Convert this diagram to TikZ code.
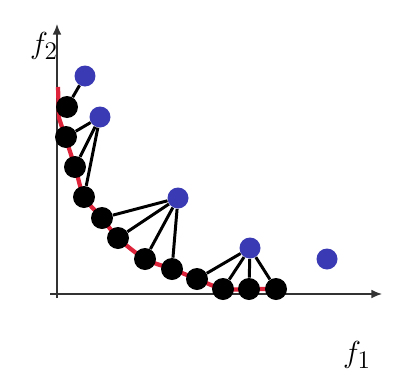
\documentclass[tikz,border=0pt]{standalone}
\usepackage{xcolor}
\definecolor{dotblue}{RGB}{58,58,180}
\definecolor{frontred}{RGB}{222,36,58}
\usetikzlibrary{arrows.meta,backgrounds}

\begin{document}
\begin{tikzpicture}[x=0.02cm, y=-0.02cm,
    sol/.style={circle, fill=black, minimum size=0.44cm, inner sep=0pt},
    refpt/.style={circle, fill=dotblue, minimum size=0.42cm, inner sep=0pt},
    link/.style={line width=1.7pt, black},
    axis/.style={line width=0.9pt, black!80, -{Latex[length=6pt,width=5pt]}},
    lab/.style={font=\fontsize{19}{22}\selectfont, inner sep=0pt}
  ]
    \useasboundingbox (0,0) rectangle (405,389);

    % Axes ends
    \coordinate (xs) at (50,294);
    \coordinate (xe) at (382,294);
    \coordinate (ys) at (57,298);
    \coordinate (ye) at (57,24);
    \coordinate (top) at (58,87);
    \coordinate (bend) at (59,118);

    % Axis labels
    \node[lab] (f2lab) at (44,46) {$f_2$};
    \node[lab] (f1lab) at (357,355) {$f_1$};

    % Reference points
    \node[refpt] (b1) at (85,76) {};
    \node[refpt] (b2) at (100,117) {};
    \node[refpt] (b3) at (178,198) {};
    \node[refpt] (b4) at (250,248) {};
    \node[refpt] (b5) at (327,259) {};

    % Solutions on the front
    \node[sol] (s1) at (67,107) {};
    \node[sol] (s2) at (66,137) {};
    \node[sol] (s3) at (75,167) {};
    \node[sol] (s4) at (84,197) {};
    \node[sol] (s5) at (102,218) {};
    \node[sol] (s6) at (118,238) {};
    \node[sol] (s7) at (145,259) {};
    \node[sol] (s8) at (172,269) {};
    \node[sol] (s9) at (197,279) {};
    \node[sol] (s10) at (223,289) {};
    \node[sol] (s11) at (249,289) {};
    \node[sol] (s12) at (276,289) {};

    \begin{scope}[on background layer]
      \fill[white] (0,0) rectangle (405,389);
      % Axes
      \draw[axis] (ys) -- (ye);
      \draw[axis] (xs) -- (xe);
      % Front
      \draw[frontred, line width=2.4pt] (top) -- plot[smooth] coordinates
        {(bend) (s3) (s4) (s5) (s6) (s7) (s8) (s9) (s10) (s11) (s12)};
      % Links
      \draw[link] (b1) -- (s1);
      \draw[link] (b2) -- (s2);
      \draw[link] (b2) -- (s3);
      \draw[link] (b2) -- (s4);
      \draw[link] (b3) -- (s5);
      \draw[link] (b3) -- (s6);
      \draw[link] (b3) -- (s7);
      \draw[link] (b3) -- (s8);
      \draw[link] (b4) -- (s9);
      \draw[link] (b4) -- (s10);
      \draw[link] (b4) -- (s11);
      \draw[link] (b4) -- (s12);
    \end{scope}
  \end{tikzpicture}
\end{document}
